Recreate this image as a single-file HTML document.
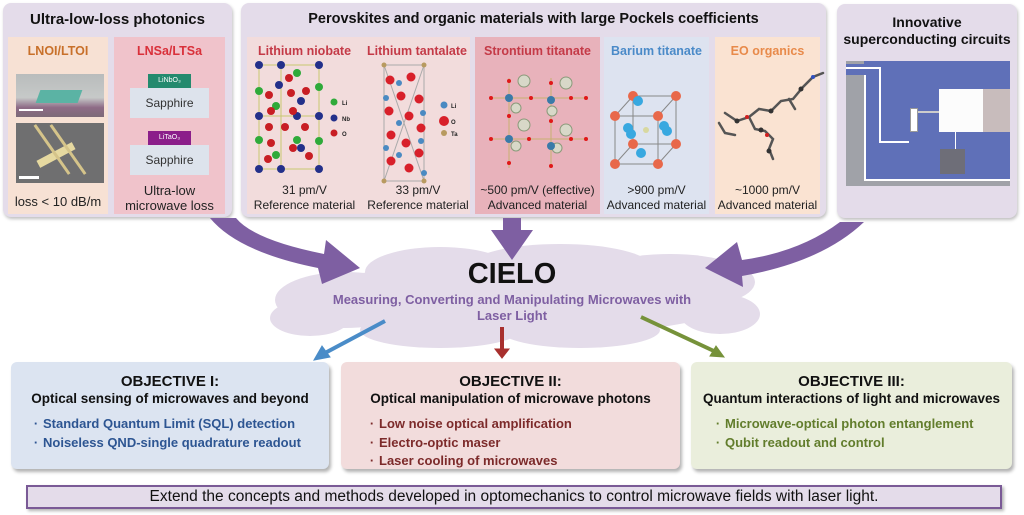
<!DOCTYPE html>
<html><head><meta charset="utf-8">
<style>
*{margin:0;padding:0;box-sizing:border-box}
body{width:1024px;height:515px;background:#fff;position:relative;overflow:hidden;font-family:"Liberation Sans",sans-serif}
.abs{position:absolute}
.panel{position:absolute;background:#e4dcea;border-radius:8px;box-shadow:1px 2px 3px rgba(0,0,0,.25)}
.ph{position:absolute;left:0;right:0;text-align:center;font-weight:bold;font-size:14px;color:#111}
.sub{position:absolute;top:34px;height:177px}
.st{position:absolute;left:0;right:0;top:7px;text-align:center;font-weight:bold;font-size:12.5px;white-space:nowrap}
.cap{position:absolute;left:0;right:0;text-align:center;font-size:12px;color:#222;line-height:15px;white-space:nowrap}
.obj{position:absolute;top:362px;height:107px;border-radius:6px;box-shadow:2px 3px 3px rgba(0,0,0,.3);font-family:"Liberation Sans Narrow","Liberation Sans",sans-serif;font-weight:bold}
.obj .t{text-align:center;font-size:15px;color:#111;margin-top:12px;line-height:16px}
.obj .s{text-align:center;font-size:13.5px;color:#111;line-height:17px}
.obj ul{list-style:none;margin-top:8px;font-size:13px;line-height:18.5px}
.obj li:before{content:"·";display:inline-block;width:14px;text-align:center}
</style></head><body>

<!-- Panel 1 -->
<div class="panel" style="left:3px;top:3px;width:229px;height:214px">
  <div class="ph" style="top:8px;font-size:15px">Ultra-low-loss photonics</div>
  <div class="sub" style="left:5px;width:100px;background:#f7e1d4">
    <div class="st" style="color:#c8702a">LNOI/LTOI</div>
    <div class="abs" style="left:8px;top:37px;width:88px;height:43px;background:linear-gradient(#b9bcbc 0,#c6c9c8 55%,#8e6b86 78%,#7d6a78 100%)">
      <div class="abs" style="left:22px;top:16px;width:42px;height:13px;background:#5bb3a4;transform:skewX(-20deg)"></div>
      <div class="abs" style="left:3px;top:35px;width:24px;height:2px;background:#fff"></div>
    </div>
    <div class="abs" style="left:8px;top:86px;width:88px;height:60px;background:#6f6f70">
      <div class="abs" style="left:20px;top:28px;width:40px;height:8px;background:#e6d9a0;transform:rotate(-28deg)"></div>
      <div class="abs" style="left:22px;top:25px;width:60px;height:3px;background:#d5c48a;transform:rotate(55deg)"></div>
      <div class="abs" style="left:6px;top:25px;width:60px;height:3px;background:#d5c48a;transform:rotate(55deg)"></div>
      <div class="abs" style="left:3px;top:53px;width:20px;height:3px;background:#fff"></div>
    </div>
    <div class="cap" style="top:157px;font-size:13px">loss &lt; 10 dB/m</div>
  </div>
  <div class="sub" style="left:111px;width:111px;background:#f0c3cb">
    <div class="st" style="color:#d9303a">LNSa/LTSa</div>
    <div class="abs" style="left:34px;top:37px;width:43px;height:14px;background:#248a6e;color:#fff;font-size:7px;text-align:center;line-height:14px">LiNbO₃</div>
    <div class="abs" style="left:16px;top:51px;width:79px;height:30px;background:#dde3ec;font-size:12px;text-align:center;line-height:30px;color:#333">Sapphire</div>
    <div class="abs" style="left:34px;top:94px;width:43px;height:14px;background:#8b1e8a;color:#fff;font-size:7px;text-align:center;line-height:14px">LiTaO₃</div>
    <div class="abs" style="left:16px;top:108px;width:79px;height:30px;background:#dde3ec;font-size:12px;text-align:center;line-height:30px;color:#333">Sapphire</div>
    <div class="cap" style="top:146px;font-size:13px">Ultra-low<br>microwave loss</div>
  </div>
</div>

<!-- Panel 2 -->
<div class="panel" style="left:241px;top:3px;width:585px;height:214px">
  <div class="ph" style="top:8px;font-size:14.5px">Perovskites and organic materials with large Pockels coefficients</div>
  <div class="sub" style="left:6px;width:223px;background:#f2dcdc"></div>
  <div class="sub" style="left:234px;width:125px;background:#e8b2bb"></div>
  <div class="sub" style="left:363px;width:105px;background:#dde3f0"></div>
  <div class="sub" style="left:474px;width:105px;background:#fae3d2"></div>
  <div class="st" style="left:6px;right:auto;width:115px;top:41px;color:#c43a47">Lithium niobate</div>
  <div class="st" style="left:120px;right:auto;width:112px;top:41px;color:#c43a47">Lithium tantalate</div>
  <div class="st" style="left:234px;right:auto;width:125px;top:41px;color:#c43a47">Strontium titanate</div>
  <div class="st" style="left:363px;right:auto;width:105px;top:41px;color:#4a8ac8">Barium titanate</div>
  <div class="st" style="left:474px;right:auto;width:105px;top:41px;color:#e88a4a">EO organics</div>
  <svg class="abs" style="left:0;top:0" width="585" height="214">
    <g stroke="#c8c870" stroke-width="1" fill="none"><rect x="18" y="62" width="60" height="104"/><line x1="18" y1="113" x2="78" y2="113"/><line x1="40" y1="62" x2="40" y2="166"/></g>
    <g fill="#23308a"><circle cx="18" cy="62" r="4"/><circle cx="40" cy="62" r="4"/><circle cx="78" cy="62" r="4"/><circle cx="18" cy="113" r="4"/><circle cx="56" cy="113" r="4"/><circle cx="78" cy="113" r="4"/><circle cx="18" cy="166" r="4"/><circle cx="40" cy="166" r="4"/><circle cx="78" cy="166" r="4"/><circle cx="38" cy="82" r="4"/><circle cx="60" cy="98" r="4"/><circle cx="60" cy="145" r="4"/></g>
    <g fill="#2faa3a"><circle cx="18" cy="88" r="4"/><circle cx="78" cy="84" r="4"/><circle cx="18" cy="137" r="4"/><circle cx="78" cy="138" r="4"/><circle cx="56" cy="70" r="4"/><circle cx="35" cy="103" r="4"/><circle cx="56" cy="137" r="4"/><circle cx="35" cy="152" r="4"/></g>
    <g fill="#c81e24"><circle cx="28" cy="92" r="4"/><circle cx="48" cy="75" r="4"/><circle cx="50" cy="90" r="4"/><circle cx="65" cy="88" r="4"/><circle cx="30" cy="108" r="4"/><circle cx="52" cy="108" r="4"/><circle cx="28" cy="124" r="4"/><circle cx="44" cy="124" r="4"/><circle cx="64" cy="124" r="4"/><circle cx="30" cy="140" r="4"/><circle cx="52" cy="145" r="4"/><circle cx="27" cy="156" r="4"/><circle cx="68" cy="153" r="4"/></g>
    <circle cx="93" cy="99" r="3.5" fill="#2faa3a"/><circle cx="93" cy="115" r="3.5" fill="#23308a"/><circle cx="93" cy="130" r="3.5" fill="#c81e24"/>
    <text x="101" y="102" font-size="6" font-weight="bold" fill="#222">Li</text><text x="101" y="118" font-size="6" font-weight="bold" fill="#222">Nb</text><text x="101" y="133" font-size="6" font-weight="bold" fill="#222">O</text>
    <g stroke="#aaa" stroke-width="1"><rect x="143" y="62" width="40" height="116" fill="none"/><line x1="143" y1="62" x2="183" y2="178"/><line x1="183" y1="62" x2="143" y2="178"/></g>
    <g fill="#d8202a"><circle cx="149" cy="77" r="4.5"/><circle cx="170" cy="74" r="4.5"/><circle cx="160" cy="93" r="4.5"/><circle cx="178" cy="96" r="4.5"/><circle cx="148" cy="108" r="4.5"/><circle cx="168" cy="113" r="4.5"/><circle cx="180" cy="125" r="4.5"/><circle cx="150" cy="132" r="4.5"/><circle cx="165" cy="140" r="4.5"/><circle cx="178" cy="150" r="4.5"/><circle cx="150" cy="158" r="4.5"/><circle cx="168" cy="165" r="4.5"/></g>
    <g fill="#4a8ac2"><circle cx="158" cy="80" r="3"/><circle cx="145" cy="95" r="3"/><circle cx="182" cy="110" r="3"/><circle cx="158" cy="120" r="3"/><circle cx="145" cy="145" r="3"/><circle cx="180" cy="138" r="3"/><circle cx="158" cy="152" r="3"/><circle cx="183" cy="170" r="3"/></g>
    <g fill="#b89a60"><circle cx="143" cy="62" r="2.5"/><circle cx="183" cy="62" r="2.5"/><circle cx="143" cy="178" r="2.5"/><circle cx="183" cy="178" r="2.5"/></g>
    <circle cx="203" cy="102" r="3.5" fill="#4a8ac2"/><circle cx="203" cy="118" r="5" fill="#d8202a"/><circle cx="203" cy="130" r="3" fill="#b89a60"/>
    <text x="210" y="105" font-size="6" font-weight="bold" fill="#222">Li</text><text x="210" y="121" font-size="6" font-weight="bold" fill="#222">O</text><text x="210" y="133" font-size="6" font-weight="bold" fill="#222">Ta</text>
    <g stroke="#c8b070" stroke-width="1"><line x1="250" y1="95" x2="345" y2="95"/><line x1="250" y1="136" x2="345" y2="136"/><line x1="268" y1="75" x2="268" y2="165"/><line x1="310" y1="75" x2="310" y2="165"/></g>
    <g fill="#d8d8c8" stroke="#8a9a7a"><circle cx="283" cy="78" r="6"/><circle cx="325" cy="80" r="6"/><circle cx="275" cy="105" r="5"/><circle cx="311" cy="108" r="5"/><circle cx="283" cy="122" r="6"/><circle cx="325" cy="127" r="6"/><circle cx="275" cy="143" r="5"/><circle cx="316" cy="145" r="5"/></g>
    <g fill="#3a7aa8"><circle cx="268" cy="95" r="4"/><circle cx="310" cy="97" r="4"/><circle cx="268" cy="136" r="4"/><circle cx="310" cy="143" r="4"/></g>
    <g fill="#e01818"><circle cx="250" cy="95" r="2"/><circle cx="345" cy="95" r="2"/><circle cx="250" cy="136" r="2"/><circle cx="345" cy="136" r="2"/><circle cx="268" cy="78" r="2"/><circle cx="310" cy="80" r="2"/><circle cx="268" cy="113" r="2"/><circle cx="310" cy="118" r="2"/><circle cx="268" cy="160" r="2"/><circle cx="310" cy="163" r="2"/><circle cx="290" cy="95" r="2"/><circle cx="330" cy="136" r="2"/><circle cx="288" cy="136" r="2"/><circle cx="330" cy="95" r="2"/></g>
    <g stroke="#888" stroke-width="1" fill="none"><rect x="374" y="113" width="43" height="48"/><rect x="392" y="93" width="43" height="48"/><line x1="374" y1="113" x2="392" y2="93"/><line x1="417" y1="113" x2="435" y2="93"/><line x1="374" y1="161" x2="392" y2="141"/><line x1="417" y1="161" x2="435" y2="141"/></g>
    <g fill="#e8684a"><circle cx="374" cy="113" r="5"/><circle cx="417" cy="113" r="5"/><circle cx="392" cy="93" r="5"/><circle cx="435" cy="93" r="5"/><circle cx="374" cy="161" r="5"/><circle cx="417" cy="161" r="5"/><circle cx="392" cy="141" r="5"/><circle cx="435" cy="141" r="5"/></g>
    <g fill="#38a8e0"><circle cx="397" cy="98" r="5"/><circle cx="387" cy="125" r="5"/><circle cx="390" cy="131" r="5"/><circle cx="423" cy="123" r="5"/><circle cx="426" cy="128" r="5"/><circle cx="400" cy="150" r="5"/></g>
    <circle cx="405" cy="127" r="3" fill="#d8d8a0"/>
    <g stroke="#555" stroke-width="2.5" fill="none" stroke-linecap="round"><path d="M484 110 l12 8 l12 -4 l10 -8 l12 2 l10 -10 l12 -2 l10 -12 l10 -10 l10 -4"/><path d="M508 114 l6 12 l10 2 l8 8 l-4 10 l4 10"/><path d="M478 120 l6 10 l10 2"/><path d="M548 96 l6 10"/></g>
    <g fill="#333"><circle cx="496" cy="118" r="2.5"/><circle cx="530" cy="108" r="2.5"/><circle cx="560" cy="86" r="2.5"/><circle cx="520" cy="127" r="2.5"/><circle cx="528" cy="148" r="2.5"/></g>
    <circle cx="506" cy="114" r="2" fill="#d02020"/><circle cx="526" cy="132" r="2" fill="#d02020"/><circle cx="572" cy="74" r="2" fill="#3050c0"/>
  </svg>
  <div class="cap" style="left:6px;right:auto;width:115px;top:180px">31 pm/V<br>Reference material</div>
  <div class="cap" style="left:120px;right:auto;width:114px;top:180px">33 pm/V<br>Reference material</div>
  <div class="cap" style="left:234px;right:auto;width:125px;top:180px">~500 pm/V (effective)<br>Advanced material</div>
  <div class="cap" style="left:361px;right:auto;width:109px;top:180px">&gt;900 pm/V<br>Advanced material</div>
  <div class="cap" style="left:472px;right:auto;width:109px;top:180px">~1000 pm/V<br>Advanced material</div>
</div>

<!-- Panel 3 -->
<div class="panel" style="left:837px;top:4px;width:180px;height:214px">
  <div class="ph" style="top:10px;font-size:14px;line-height:17px">Innovative<br>superconducting circuits</div>
  <div class="abs" style="left:9px;top:57px;width:164px;height:125px;background:#5f70b8;overflow:hidden">
    <div class="abs" style="left:0;top:14px;width:18px;height:111px;background:#a0a2a8"></div>
    <div class="abs" style="left:0;top:120px;width:164px;height:5px;background:#a0a2a8"></div>
    <div class="abs" style="left:0;top:0;width:18px;height:3px;background:#a0a2a8"></div>
    <div class="abs" style="left:0;top:6px;width:35px;height:2px;background:#fff"></div>
    <div class="abs" style="left:18px;top:14px;width:2px;height:106px;background:#fff"></div>
    <div class="abs" style="left:18px;top:118px;width:146px;height:2px;background:#fff"></div>
    <div class="abs" style="left:33px;top:6px;width:2px;height:75px;background:#fff"></div>
    <div class="abs" style="left:33px;top:80px;width:30px;height:2px;background:#fff"></div>
    <div class="abs" style="left:93px;top:28px;width:44px;height:43px;background:#fcfcfc"></div>
    <div class="abs" style="left:137px;top:28px;width:27px;height:43px;background:#c8bcbc"></div>
    <div class="abs" style="left:64px;top:47px;width:8px;height:24px;background:#fff;border:1px solid #999"></div>
    <div class="abs" style="left:72px;top:50px;width:21px;height:2px;background:#ccc"></div>
    <div class="abs" style="left:109px;top:71px;width:1px;height:17px;background:#fff"></div>
    <div class="abs" style="left:94px;top:88px;width:25px;height:25px;background:#6e6e78"></div>
  </div>
</div>

<!-- Arrows & cloud -->
<svg class="abs" style="left:0;top:0" width="1024" height="515">
  <g fill="#e4dcea">
    <ellipse cx="512" cy="300" rx="225" ry="36"/>
    <ellipse cx="345" cy="300" rx="70" ry="28"/>
    <ellipse cx="440" cy="272" rx="75" ry="25"/>
    <ellipse cx="560" cy="266" rx="90" ry="22"/>
    <ellipse cx="670" cy="282" rx="85" ry="28"/>
    <ellipse cx="310" cy="318" rx="40" ry="18"/>
    <ellipse cx="720" cy="314" rx="40" ry="20"/>
    <ellipse cx="440" cy="330" rx="80" ry="18"/>
    <ellipse cx="580" cy="330" rx="80" ry="18"/>
  </g>
  <g fill="#7e5fa2">
    <path d="M210 218 Q238 252 318 268 L322 284 L360 268 L326 240 L324 254 Q254 240 236 218 Z"/>
    <path d="M503 218 L521 218 L521 230 L533 230 L512 260 L491 230 L503 230 Z"/>
    <path d="M840 222 Q800 252 742 260 L737 242 L705 268 L743 287 L742 276 Q822 262 864 222 Z"/>
  </g>
  <g stroke="#4a8cc8" stroke-width="4" fill="#4a8cc8"><line x1="385" y1="321" x2="325" y2="353"/><path d="M314 360 L322 346 L330 357 Z" stroke-width="1"/></g>
  <g stroke="#a8302e" stroke-width="4" fill="#a8302e"><line x1="502" y1="327" x2="502" y2="350"/><path d="M495 349 L509 349 L502 358 Z" stroke-width="1"/></g>
  <g stroke="#76923a" stroke-width="4" fill="#76923a"><line x1="641" y1="317" x2="716" y2="352"/><path d="M724 357 L710 356 L716 346 Z" stroke-width="1"/></g>
  <text x="512" y="283" text-anchor="middle" font-family="Liberation Sans,sans-serif" font-weight="bold" font-size="29" fill="#111">CIELO</text>
  <text x="512" y="304" text-anchor="middle" font-family="Liberation Sans,sans-serif" font-weight="bold" font-size="13" fill="#7e5fa2">Measuring, Converting and Manipulating Microwaves with</text>
  <text x="512" y="320" text-anchor="middle" font-family="Liberation Sans,sans-serif" font-weight="bold" font-size="13" fill="#7e5fa2">Laser Light</text>
</svg>

<!-- Objectives -->
<div class="obj" style="left:11px;width:318px;background:#dce4f1">
  <div class="t">OBJECTIVE I:</div>
  <div class="s">Optical sensing of microwaves and beyond</div>
  <ul style="color:#2d5592;padding-left:18px"><li>Standard Quantum Limit (SQL) detection</li><li>Noiseless QND-single quadrature readout</li></ul>
</div>
<div class="obj" style="left:341px;width:339px;background:#f2dcdc">
  <div class="t">OBJECTIVE II:</div>
  <div class="s">Optical manipulation of microwave photons</div>
  <ul style="color:#7c2a2a;padding-left:24px"><li>Low noise optical amplification</li><li>Electro-optic maser</li><li>Laser cooling of microwaves</li></ul>
</div>
<div class="obj" style="left:691px;width:321px;background:#eaeedc">
  <div class="t">OBJECTIVE III:</div>
  <div class="s">Quantum interactions of light and microwaves</div>
  <ul style="color:#627d2c;padding-left:20px"><li>Microwave-optical photon entanglement</li><li>Qubit readout and control</li></ul>
</div>

<div class="abs" style="left:26px;top:485px;width:976px;height:24px;background:#e4dcea;border:2px solid #7a5a96;box-shadow:2px 2px 3px rgba(0,0,0,.3);text-align:center;font-family:'Liberation Sans',sans-serif;font-size:15.5px;line-height:20px;color:#111">Extend the concepts and methods developed in optomechanics to control microwave fields with laser light.</div>
</body></html>
